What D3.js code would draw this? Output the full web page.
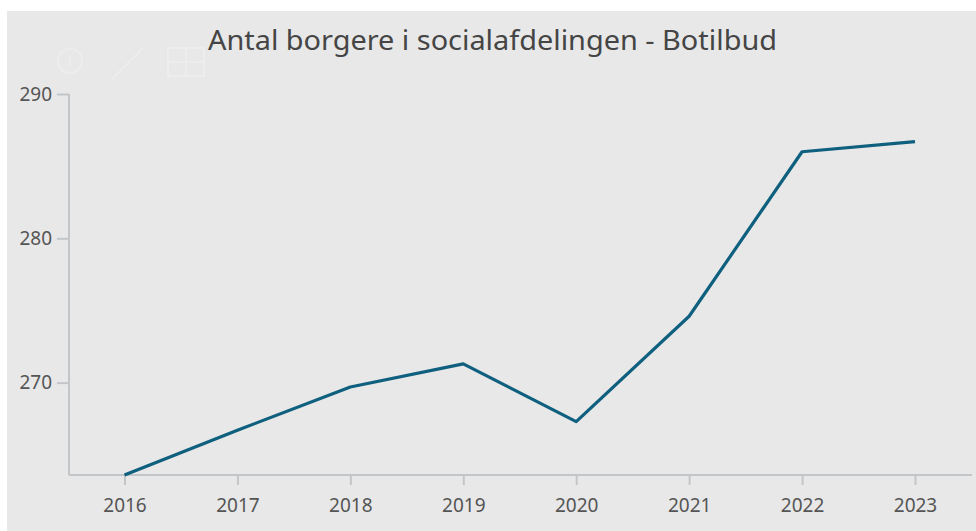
<!DOCTYPE html>
<html>
<head>
<meta charset="utf-8">
<script src="https://cdn.jsdelivr.net/npm/d3@7"></script>
<style>
    html, body { margin: 0; padding: 0; background: #ffffff; }
    svg { display: block; }
</style>
</head>
<body>
<div id="chart"></div>
<script>
// chart data
const years = ["2016", "2017", "2018", "2019", "2020", "2021", "2022", "2023"];
const borgere = [263.6, 266.7, 269.7, 271.3, 267.3, 274.6, 286.0, 286.7];
const yTicks = [270, 280, 290];
const yDomain = [263.6, 290];
const title = "Antal borgere i socialafdelingen - Botilbud";

const width = 976;
const height = 531;

const svg = d3
    .select("#chart")
    .append("svg")
    .attr("width", width)
    .attr("height", height);

// panel background
svg.append("rect")
    .attr("x", 7)
    .attr("y", 11)
    .attr("width", width - 7)
    .attr("height", height - 11)
    .attr("fill", "#e8e8e8");

// faint header icons
const icons = svg.append("g")
    .attr("fill", "none")
    .attr("stroke", "#ededed")
    .attr("stroke-width", 2);
icons.append("circle").attr("cx", 70).attr("cy", 61).attr("r", 12);
icons.append("line").attr("x1", 70).attr("x2", 70).attr("y1", 55).attr("y2", 66);
icons.append("line").attr("x1", 112).attr("y1", 79).attr("x2", 143).attr("y2", 48);
icons.append("rect").attr("x", 168).attr("y", 48).attr("width", 36).attr("height", 28);
icons.append("line").attr("x1", 168).attr("x2", 204).attr("y1", 62).attr("y2", 62);
icons.append("line").attr("x1", 186).attr("x2", 186).attr("y1", 48).attr("y2", 76);

// title
svg.append("text")
    .attr("x", 492.5)
    .attr("y", 50)
    .attr("text-anchor", "middle")
    .attr("font-family", "'Noto Sans', 'Open Sans', sans-serif")
    .attr("font-size", "28px")
    .attr("fill", "#454545")
    .attr("textLength", 569)
    .attr("lengthAdjust", "spacingAndGlyphs")
    .text(title);

const x = d3.scalePoint().domain(years).range([124.5, 915]);
const y = d3.scaleLinear().domain(yDomain).range([475, 94]);

// y axis
const yAxis = svg.append("g")
    .attr("transform", "translate(69,0)")
    .call(d3.axisLeft(y).tickValues(yTicks).tickSize(12).tickSizeOuter(0).tickPadding(5));
yAxis.select(".domain").remove();
yAxis.append("line")
    .attr("x1", 0).attr("x2", 0)
    .attr("y1", y(290)).attr("y2", 475);

// x axis
const xAxis = svg.append("g")
    .attr("transform", "translate(0,475)")
    .call(d3.axisBottom(x).tickSize(10).tickSizeOuter(0).tickPadding(14));
xAxis.select(".domain").remove();
xAxis.append("line")
    .attr("x1", 69).attr("x2", 972)
    .attr("y1", 0).attr("y2", 0);

svg.selectAll(".tick line")
    .attr("stroke", "#c3c6c9")
    .attr("stroke-width", 2);
svg.selectAll("g > line").filter(function () { return this.parentNode !== icons.node(); })
    .attr("stroke", "#c3c6c9")
    .attr("stroke-width", 2);
svg.selectAll(".tick text")
    .attr("font-family", "'Noto Sans', 'Open Sans', sans-serif")
    .attr("font-size", "19px")
    .attr("fill", "#555555");

// line
const line = d3.line()
    .x((d, i) => x(years[i]))
    .y(d => y(d));

svg.append("path")
    .datum(borgere)
    .attr("d", line)
    .attr("fill", "none")
    .attr("stroke", "#0f5f7f")
    .attr("stroke-width", 3.2)
    .attr("stroke-linejoin", "round");
</script>
</body>
</html>
